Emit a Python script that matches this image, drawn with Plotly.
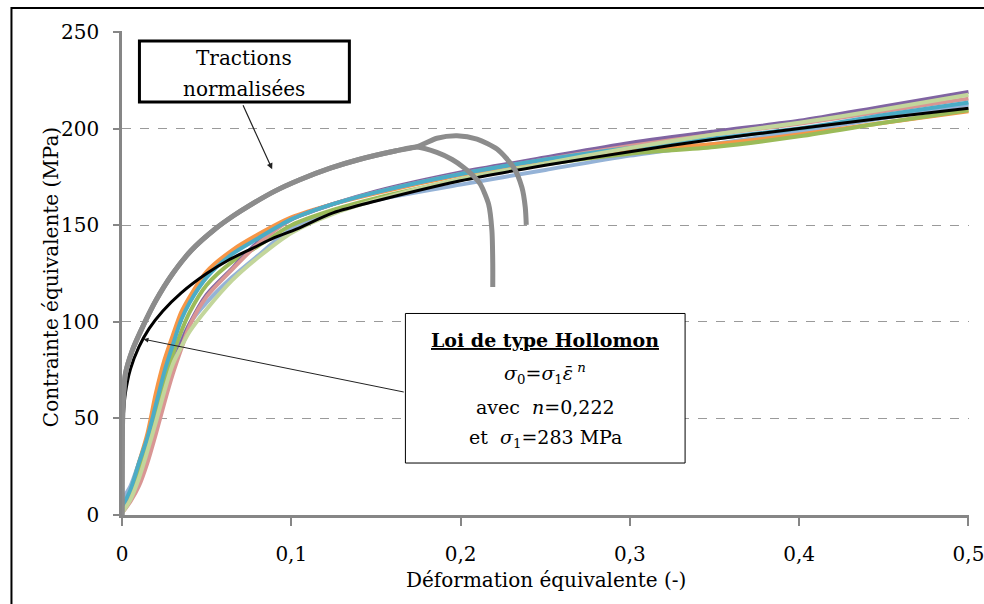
import plotly.graph_objects as go

# strain grid shared by the compression curves
x_comp = [0, 0.005, 0.01, 0.015, 0.02, 0.025, 0.03, 0.035, 0.04, 0.05, 0.065, 0.08,
          0.1, 0.125, 0.15, 0.2, 0.25, 0.3, 0.35, 0.4, 0.45, 0.5]

y_blue = [8, 15, 27, 40, 52, 65, 78, 90, 99, 110, 123, 134,
          148, 156.5, 163, 171, 178.6, 186, 192, 198.5, 205.5, 212.5]
y_orange = [3, 12, 27, 42, 63, 80, 93, 105, 113, 126, 137, 145,
            154, 161, 166.5, 176, 183, 188.5, 192, 197, 203, 209]
y_green = [2, 10, 24, 38, 53, 69, 83, 95, 105, 119, 131, 139,
           150, 158, 164, 173.5, 181.5, 187, 190.5, 196, 203, 209.5]
y_purple = [2, 8, 18, 31, 45, 61, 76, 89, 99, 114, 127.5, 141,
            153, 161, 167.5, 177.3, 185, 192.5, 198.5, 204, 211.5, 219]
y_pink = [1, 7, 15, 27, 42, 58, 73, 86, 98, 113, 127, 140,
          153, 161, 167, 176.5, 184, 191, 197, 202.5, 209, 215.5]
y_teal = [4, 13, 27, 40, 57, 74, 88, 101, 110, 123, 135, 143,
          153, 161, 167, 176.5, 184, 190, 195, 200, 207, 213.5]
y_lgreen = [1, 8, 19, 33, 48, 64, 78, 87, 95, 106.5, 121.4, 133,
            146, 156, 163, 174, 182, 190, 197, 203, 210, 217.5]

# Hollomon fit (black)
x_holl = [0, 0.0003, 0.0006, 0.001, 0.002, 0.005, 0.01, 0.016, 0.024, 0.035, 0.05, 0.063,
          0.077, 0.09, 0.103, 0.125, 0.15, 0.2, 0.25, 0.3, 0.35, 0.4, 0.45, 0.5]
y_holl = [0, 40, 47, 54, 63, 75.5, 87, 96.5, 105.5, 115, 125, 132,
          138, 143.5, 148, 156.5, 162.5, 173, 181, 188, 194.5, 200, 205.5, 210.5]

# normalised tensile tests (grey)
x_tr_common = [0, 0.0002, 0.0005, 0.001, 0.002, 0.006, 0.012, 0.02, 0.03, 0.041, 0.055,
               0.066, 0.075, 0.09, 0.105, 0.123, 0.14, 0.162, 0.174]
y_tr_common = [0, 40, 55, 63, 73, 85, 97, 111, 125, 137, 148,
               155, 160, 167.5, 173.5, 179.5, 184, 188.5, 190.5]
x_tr_a = [0.186, 0.195, 0.2018, 0.207, 0.2116, 0.2165, 0.2185, 0.219, 0.219]
y_tr_a = [187.7, 184, 179.9, 176, 171.3, 161, 147.2, 130, 118]
x_tr_b = [0.186, 0.1979, 0.2097, 0.2215, 0.2313, 0.2362, 0.2382, 0.2388]
y_tr_b = [195, 196.3, 194.6, 189.4, 179.9, 169.6, 159.2, 150.2]

x_ticks = [0, 0.1, 0.2, 0.3, 0.4, 0.5]
x_ticktext = ["0", "0,1", "0,2", "0,3", "0,4", "0,5"]
y_ticks = [0, 50, 100, 150, 200, 250]

FONT = "DejaVu Serif"

fig = go.Figure()

comp = [(y_blue, "#95b3d7"), (y_orange, "#f79646"), (y_green, "#9bbb59"),
        (y_purple, "#8064a2"), (y_pink, "#d99694"), (y_teal, "#4bacc6"),
        (y_lgreen, "#c3d69b")]
for ys, col in comp:
    fig.add_trace(go.Scatter(x=x_comp, y=ys, mode="lines",
                             line=dict(color=col, width=4, shape="spline", smoothing=0.8)))

fig.add_trace(go.Scatter(x=x_holl, y=y_holl, mode="lines",
                         line=dict(color="black", width=3, shape="spline", smoothing=0.8)))

for xs, ys in [(x_tr_common + x_tr_a, y_tr_common + y_tr_a),
               (x_tr_common + x_tr_b, y_tr_common + y_tr_b)]:
    fig.add_trace(go.Scatter(x=xs, y=ys, mode="lines",
                             line=dict(color="#8c8c8c", width=5, shape="spline", smoothing=0.7)))

fig.update_layout(
    width=984, height=604,
    margin=dict(l=121.5, r=15, t=31, b=89),
    plot_bgcolor="white", paper_bgcolor="white",
    showlegend=False,
    font=dict(family=FONT, size=20, color="black"),
    xaxis=dict(range=[0, 0.5003], tickvals=x_ticks, ticktext=x_ticktext, showgrid=False,
               showline=True, linecolor="#868686", linewidth=2.5, ticks="outside",
               ticklen=8, tickwidth=2, tickcolor="#868686", ticklabelstandoff=11,
               ticklabeloverflow="allow", zeroline=False, automargin=False),
    yaxis=dict(range=[0, 250.5], tickvals=y_ticks, showgrid=True, gridcolor="#9a9a9a",
               griddash="dash", gridwidth=1, showline=True, linecolor="#868686", linewidth=2.5,
               ticks="outside", ticklen=6, tickwidth=2, tickcolor="#868686",
               ticklabelstandoff=10, zeroline=False, automargin=False),
)

# axis titles
fig.add_annotation(text="Déformation équivalente (-)", xref="paper", yref="paper",
                   x=0.5, y=-0.134, showarrow=False, yanchor="middle", font=dict(size=20))
fig.add_annotation(text="Contrainte équivalente (MPa)", xref="paper", yref="paper",
                   x=-0.1, y=0.492, showarrow=False, textangle=-90, font=dict(size=20))

# outer frame (only its left and top edges fall inside the picture)
fig.add_shape(type="path", xref="paper", yref="paper",
              path="M -0.1305,-0.3 L -0.1305,1.0475 L 1.1,1.0475",
              line=dict(color="black", width=2))

# "Tractions normalisees" box
fig.add_shape(type="rect", x0=0.0103, x1=0.1343, y0=213.8, y1=245.3,
              line=dict(color="black", width=3), fillcolor="white")
fig.add_annotation(text="Tractions", x=0.0723, y=236.6, showarrow=False, font=dict(size=20))
fig.add_annotation(text="normalisées", x=0.0723, y=220.5, showarrow=False, font=dict(size=20))
fig.add_annotation(text="", x=0.0887, y=179, ax=0.0711, ay=212.8, axref="x", ayref="y",
                   showarrow=True, arrowhead=2, arrowsize=1, arrowwidth=1.2, arrowcolor="#222")

# Hollomon box
fig.add_shape(type="rect", x0=0.1674, x1=0.3326, y0=26.9, y1=104.3,
              line=dict(color="black", width=1), fillcolor="white")
fig.add_annotation(text="<b><u>Loi de type Hollomon</u></b>", x=0.25, y=90.4, showarrow=False,
                   font=dict(size=19))
fig.add_annotation(text="<i>σ</i><sub>0</sub>=<i>σ</i><sub>1</sub><i>ε̄</i><sup> <i>n</i></sup>",
                   x=0.25, y=73.3, showarrow=False, font=dict(size=19))
fig.add_annotation(text="avec  <i>n</i>=0,222", x=0.25, y=55.8, showarrow=False, font=dict(size=19))
fig.add_annotation(text="et  <i>σ</i><sub>1</sub>=283 MPa", x=0.25, y=39.8, showarrow=False,
                   font=dict(size=19))
fig.add_annotation(text="", x=0.0127, y=91, ax=0.1673, ay=63.5, axref="x", ayref="y",
                   showarrow=True, arrowhead=2, arrowsize=1, arrowwidth=1, arrowcolor="#222")

# drop the default page margin so the figure fills the window exactly
fig.write_html("out.html", config={"displayModeBar": False},
               post_script="document.body.style.margin='0';document.body.style.overflow='hidden';")
